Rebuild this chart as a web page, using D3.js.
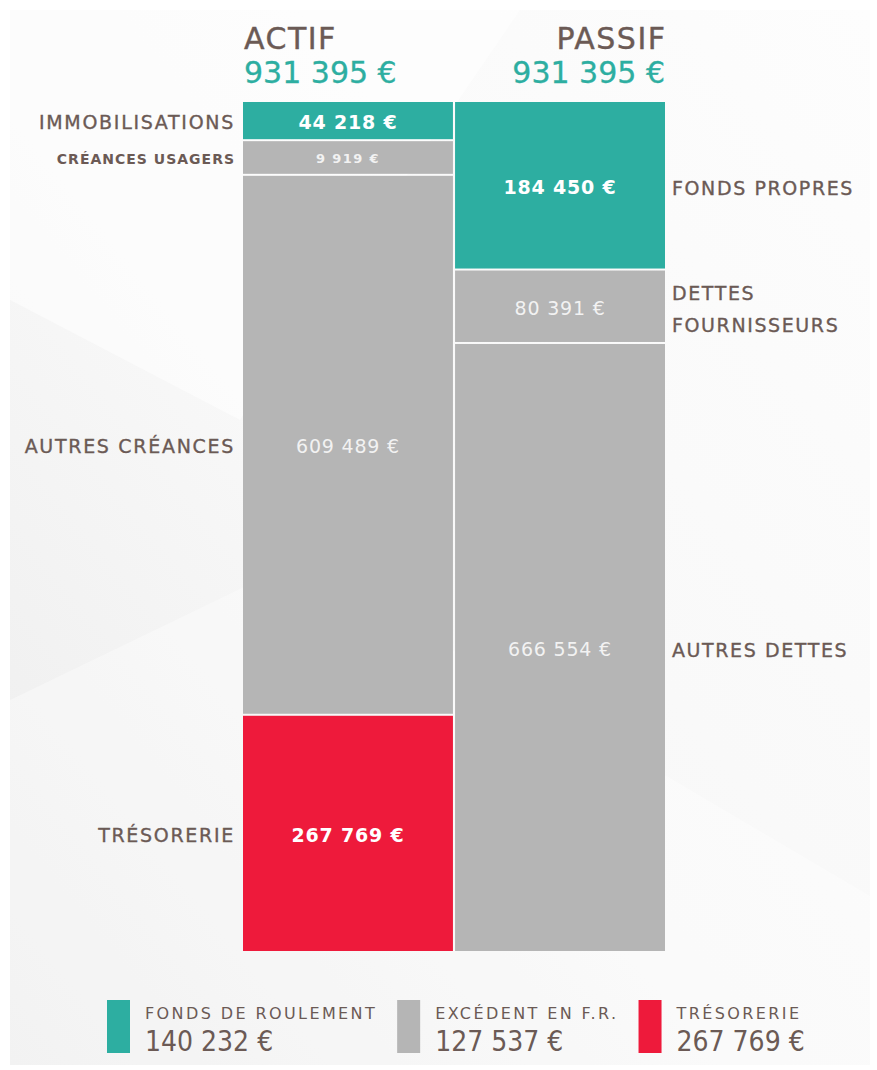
<!DOCTYPE html>
<html>
<head>
<meta charset="utf-8">
<script src="https://cdn.jsdelivr.net/npm/d3@7"></script>
<style>
body { margin: 0; background: #fff; }
text { font-family: "DejaVu Sans", sans-serif; }
</style>
</head>
<body>
<script>

// data
var actifLabels = ["IMMOBILISATIONS", "CRÉANCES USAGERS", "AUTRES CRÉANCES", "TRÉSORERIE"];
var actifValues = [44218, 9919, 609489, 267769];
var actifTypes = ["fr", "excedent", "excedent", "treso"];

var passifLabels = [["FONDS PROPRES"], ["DETTES", "FOURNISSEURS"], ["AUTRES DETTES"]];
var passifValues = [184450, 80391, 666554];
var passifTypes = ["fr", "excedent", "excedent"];

var legendLabels = ["FONDS DE ROULEMENT", "EXCÉDENT EN F.R.", "TRÉSORERIE"];
var legendValues = [140232, 127537, 267769];
var legendTypes = ["fr", "excedent", "treso"];

var columns = ["ACTIF", "PASSIF"];

var w = 877, h = 1070;
var yTop = 102, yBottom = 953;

var fr = d3.formatLocale({decimal: ",", thousands: " ", grouping: [3], currency: ["", " €"]});
var fmt = function(v) { return fr.format(",d")(v) + " €"; };

var color = d3.scaleOrdinal()
  .domain(["fr", "excedent", "treso"])
  .range(["#2daea1", "#b5b5b5", "#ee1a3b"]);

var txt = "#6b5a55";

var svg = d3.select("body").append("svg")
  .attr("width", w)
  .attr("height", h);

// background
var defs = svg.append("defs");
var grad = defs.append("linearGradient").attr("id", "bg")
  .attr("x1", "0").attr("y1", "1").attr("x2", "1").attr("y2", "0");
grad.append("stop").attr("offset", "0%").attr("stop-color", "#ececec");
grad.append("stop").attr("offset", "45%").attr("stop-color", "#f8f8f8");
grad.append("stop").attr("offset", "100%").attr("stop-color", "#fdfdfd");
svg.append("rect").attr("x", 10).attr("y", 10).attr("width", 860).attr("height", 1055)
  .attr("fill", "url(#bg)");
svg.append("path").attr("d", "M10,700 L300,560 L877,900 L877,1065 L10,1065 Z")
  .attr("fill", "#ffffff").attr("opacity", 0.35);
svg.append("path").attr("d", "M10,10 L520,10 L240,420 L10,300 Z")
  .attr("fill", "#ffffff").attr("opacity", 0.5);

var x = d3.scaleBand().domain(columns).range([243, 665]).paddingInner(0.01);

// stacks: tiny segments get a minimum share so their label fits
function stack(values) {
  var total = d3.sum(values);
  var minV = total * 0.042;
  var disp = values.map(function(v) { return Math.max(v, minV); });
  var y = d3.scaleLinear().domain([0, d3.sum(disp)]).range([yTop, yBottom]);
  var acc = 0;
  return disp.map(function(d, i) {
    var s = {y0: y(acc), y1: y(acc + d), value: values[i]};
    acc += d;
    return s;
  });
}

var actif = stack(actifValues).map(function(s, i) {
  s.label = actifLabels[i]; s.type = actifTypes[i]; return s;
});
var passif = stack(passifValues).map(function(s, i) {
  s.label = passifLabels[i]; s.type = passifTypes[i]; return s;
});

function small(d) { return d.y1 - d.y0 < 38; }

function drawColumn(data, col) {
  var g = svg.append("g");
  g.selectAll("rect").data(data).enter().append("rect")
    .attr("x", x(col))
    .attr("width", x.bandwidth())
    .attr("y", function(d) { return d.y0; })
    .attr("height", function(d) { return d.y1 - d.y0 - 2; })
    .attr("fill", function(d) { return color(d.type); });

  g.selectAll("text.val").data(data).enter().append("text")
    .attr("class", "val")
    .attr("x", x(col) + x.bandwidth() / 2)
    .attr("y", function(d) { return (d.y0 + d.y1 - 2) / 2; })
    .attr("dy", "0.45em")
    .attr("text-anchor", "middle")
    .attr("font-size", function(d) { return small(d) ? 13 : 19; })
    .attr("letter-spacing", function(d) { return small(d) ? 1.4 : 0.8; })
    .attr("font-weight", function(d) { return d.type == "excedent" && !small(d) ? "normal" : "bold"; })
    .attr("fill", function(d) { return d.type == "excedent" ? "#f2f2f2" : "#ffffff"; })
    .text(function(d) { return fmt(d.value); });
  return g;
}

var gA = drawColumn(actif, "ACTIF");
var gP = drawColumn(passif, "PASSIF");

gA.selectAll("text.lab").data(actif).enter().append("text")
  .attr("class", "lab")
  .attr("x", x("ACTIF") - 8)
  .attr("y", function(d) { return (d.y0 + d.y1 - 2) / 2; })
  .attr("dy", "0.45em")
  .attr("text-anchor", "end")
  .attr("font-size", function(d) { return small(d) ? 14 : 19; })
  .attr("font-weight", function(d) { return small(d) ? "bold" : "normal"; })
  .attr("letter-spacing", function(d) { return small(d) ? 1 : 1.7; })
  .attr("fill", txt)
  .attr("stroke", txt)
  .attr("stroke-width", function(d) { return small(d) ? 0 : 0.35; })
  .text(function(d) { return d.label; });

var rx = x("PASSIF") + x.bandwidth() + 7;
gP.selectAll("text.lab").data(passif).enter().append("text")
  .attr("class", "lab")
  .attr("x", rx)
  .attr("y", function(d) { return (d.y0 + d.y1 - 2) / 2 - (d.label.length - 1) * 16; })
  .attr("font-size", 19)
  .attr("letter-spacing", 1.6)
  .attr("fill", txt)
  .attr("stroke", txt)
  .attr("stroke-width", 0.35)
  .each(function(d) {
    var t = d3.select(this);
    d.label.forEach(function(line, k) {
      t.append("tspan").attr("x", rx)
        .attr("dy", k == 0 ? "0.5em" : 32).text(line);
    });
  });

// headers
var totals = [d3.sum(actifValues), d3.sum(passifValues)];
columns.forEach(function(c, i) {
  var hx = i == 0 ? x(c) + 1 : x(c) + x.bandwidth() + 1.5;
  var anchor = i == 0 ? "start" : "end";
  svg.append("text").attr("x", hx).attr("y", 49)
    .attr("text-anchor", anchor).attr("font-size", 30).attr("fill", txt)
    .attr("letter-spacing", 1.5)
    .attr("stroke", txt).attr("stroke-width", 0.4)
    .text(c);
  svg.append("text").attr("x", i == 0 ? hx : hx - 1.5).attr("y", 83)
    .attr("text-anchor", anchor).attr("font-size", 30).attr("fill", "#2daea1")
    .attr("stroke", "#2daea1").attr("stroke-width", 0.3)
    .text(fmt(totals[i]));
});

// legend, laid out left to right after each item's text
var lg = svg.append("g").selectAll("g").data(legendLabels).enter().append("g");
lg.append("rect").attr("width", 23).attr("height", 53).attr("y", 1000)
  .attr("fill", function(d, i) { return color(legendTypes[i]); });
lg.append("text").attr("x", 38).attr("y", 1019).attr("font-size", 16)
  .attr("letter-spacing", 2.4).attr("fill", txt)
  .text(function(d) { return d; });
lg.append("text").attr("x", 38).attr("y", 1051).attr("font-size", 28)
  .style("font-family", "'Liberation Sans Narrow', 'DejaVu Sans Condensed', sans-serif")
  .attr("fill", txt)
  .text(function(d, i) { return fmt(legendValues[i]); });

var cx = 107;
lg.each(function() {
  var g = d3.select(this);
  g.attr("transform", "translate(" + cx + ",0)");
  cx += this.getBBox().width + 20;
});

</script>
</body>
</html>
